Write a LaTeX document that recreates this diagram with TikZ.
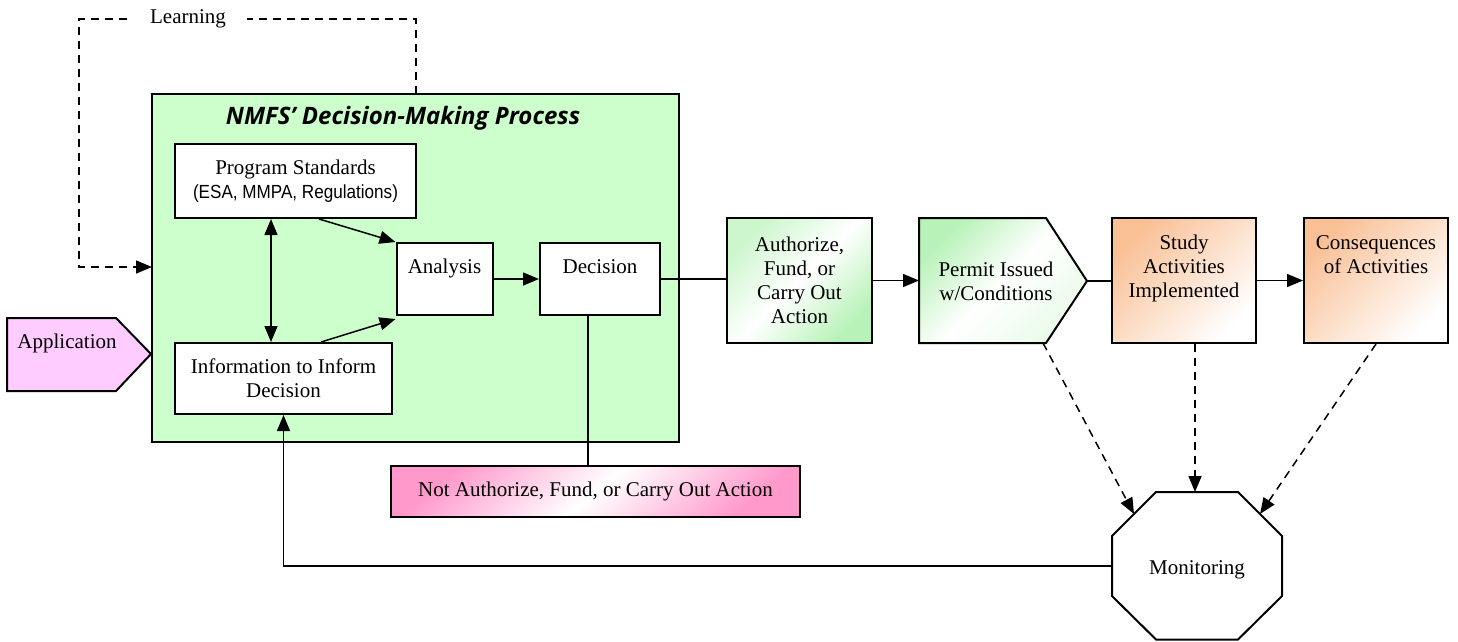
\documentclass[tikz,border=0pt]{standalone}
\usepackage{fontspec}
\setmainfont{Liberation Serif}
\newfontfamily\narrowsans{Liberation Sans}[FakeStretch=0.9]
\newfontfamily\titlefont{Open Sans}
\usetikzlibrary{arrows.meta,calc}
\definecolor{procgreen}{HTML}{CCFFCC}
\definecolor{appfill}{HTML}{FFCCFF}
\definecolor{gG}{HTML}{B8F2B8}
\definecolor{oG}{HTML}{F9C096}
\definecolor{pG}{HTML}{FF99CC}
\tikzset{
  every node/.style={font=\fontsize{21}{24}\selectfont},
  plainbox/.style={draw, line width=2pt, inner sep=0pt, align=center},
  box/.style={plainbox, fill=white},
  conn/.style={line width=1.5pt},
  tip/.style={-{Triangle[length=16pt,width=13pt]}},
  arr/.style={conn, tip},
  dashy/.style={dash pattern=on 8pt off 6pt},
  dasharr/.style={arr, dashy},
  txt/.style={inner sep=0pt, align=center},
}
\begin{document}
\begin{tikzpicture}[x=1pt,y=-1pt]
\useasboundingbox (0,0) rectangle (1458,641);

% main process box
\node[box, fill=procgreen, minimum width=527, minimum height=348] (proc) at (415.5,268) {};
\node[txt, font=\titlefont\bfseries\itshape\fontsize{24}{28}\selectfont] (title) at (403,118) {NMFS’ Decision-Making Process};

\node[box, minimum width=241, minimum height=74] (ps) at (295.5,181)
  {Program Standards\\{\narrowsans\fontsize{19}{24}\selectfont (ESA, MMPA, Regulations)}};
\node[box, minimum width=96, minimum height=72] (an) at (444.5,279) {};
\node[txt, anchor=base] (antext) at (444.5,273) {Analysis};
\node[box, minimum width=120, minimum height=72] (dec) at (600,279) {};
\node[txt, anchor=base] (dectext) at (600,273) {Decision};
\node[box, minimum width=217, minimum height=71] (info) at (283.5,378.5) {Information to Inform\\Decision};

% application
\coordinate (appTip) at (151,354);
\draw[line width=2pt, fill=appfill] (7,318) -- (116,318) -- (appTip) -- (116,391) -- (7,391) -- cycle;
\node[txt, anchor=base] (app) at (67,348) {Application};

% not authorize
\node[plainbox, top color=pG, bottom color=pG, middle color=white, shading angle=40,
      minimum width=409, minimum height=51] (nota) at (595.5,491.5) {Not Authorize, Fund, or Carry Out Action};

% authorize
\node[plainbox, top color=gG!70, bottom color=gG, middle color=white, shading angle=45,
      minimum width=145, minimum height=125] (auth) at (799.5,280.5) {Authorize,\\Fund, or\\Carry Out\\Action};

% permit
\coordinate (pW) at (919,281);
\coordinate (pTip) at (1087,281);
\coordinate (pBot) at (1043,343);
\draw[line width=2pt, top color=gG, bottom color=gG!30, middle color=white, shading angle=45]
  (919,218) -- (1046,218) -- (pTip) -- (1046,343) -- (919,343) -- cycle;
\node[txt] (permit) at (996,281) {Permit Issued\\w/Conditions};

% study & consequences
\node[plainbox, top color=oG, bottom color=white, shading angle=45,
      minimum width=144, minimum height=125] (study) at (1184,280.5) {};
\node[txt, anchor=north] (studytext) at (1184,235) {Study\\Activities\\Implemented};
\node[plainbox, top color=oG, bottom color=white, shading angle=45,
      minimum width=144, minimum height=125] (cons) at (1376,280.5) {};
\node[txt, anchor=north] (constext) at (1376,235) {Consequences\\of Activities};

% monitoring octagon
\coordinate (mW) at (1112,566);
\coordinate (mN) at (1195,492);
\coordinate (mNW) at (1134,514);
\coordinate (mNE) at (1260,514);
\draw[line width=2pt, fill=white] (1112,536) -- (1156,492) -- (1238,492) -- (1282,536)
  -- (1282,596) -- (1238,639.5) -- (1156,639.5) -- (1112,596) -- cycle;
\node[txt, anchor=base] (mon) at (1197,574) {Monitoring};

% learning loop
\coordinate (lrnStart) at (416,94);
\coordinate (lrnEnd) at (152,267);
\draw[dasharr] (lrnStart) -- (416,19) -- (79,19) -- (79,267) -- (lrnEnd);
\node[fill=white, inner sep=0pt, minimum width=118, minimum height=26] (learn) at (188,19) {Learning};

% internal arrows
\coordinate (psA) at ($(ps.south)+(23.5,0)$);
\coordinate (infoA) at ($(info.north)+(37.5,0)$);
\coordinate (anSW) at ($(an.south west)+(0,3)$);
\coordinate (psB) at ($(ps.south)+(-24.5,0)$);
\coordinate (decB) at ($(dec.south)+(-12,0)$);
\draw[arr] (psA) -- (an.north west);
\draw[arr] (infoA) -- (anSW);
\draw[conn, {Triangle[length=16pt,width=13pt]}-{Triangle[length=16pt,width=13pt]}]
  (psB) -- (psB |- info.north);
\draw[arr] (an.east) -- (dec.west);
\draw[conn, line width=1.4pt] (decB) -- (decB |- nota.north);

% main chain
\draw[conn] (dec.east) -- (dec.east -| auth.west);
\draw[arr] (auth.east) -- (auth.east -| pW);
\draw[conn] (pTip) -- (pTip -| study.west);
\draw[arr] (study.east) -- (cons.west);

% monitoring links
\coordinate (stB) at ($(study.south)+(11,0)$);
\draw[dasharr] (pBot) -- (mNW);
\draw[dasharr] (stB) -- (mN);
\draw[dasharr] (cons.south) -- (mNE);
\draw[arr, line width=1.4pt] (mW) -| (info.south);
\end{tikzpicture}
\end{document}
